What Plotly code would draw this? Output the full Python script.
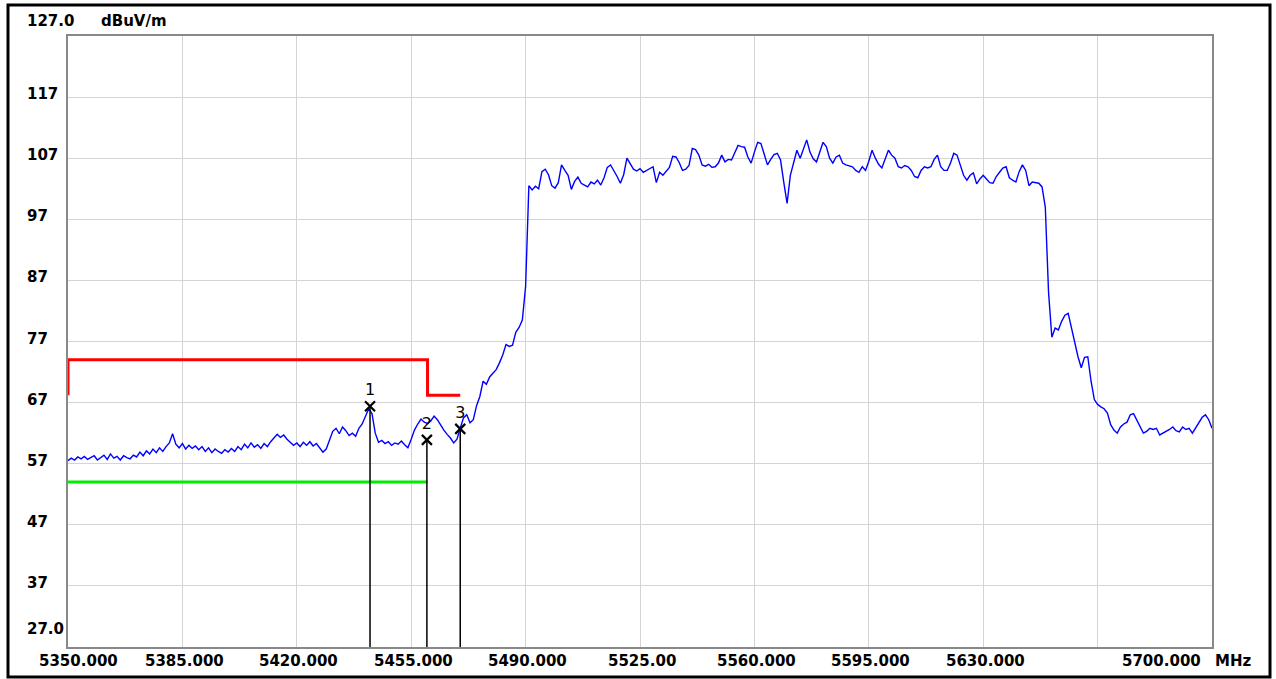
import plotly.graph_objects as go

# ---------------- data ----------------
SWEEP_START_MHZ = 5350
SWEEP_STEP_MHZ = 1

trace_level_dbuv = [
    57.5, 57.9, 57.6, 58.1, 57.8, 58.2, 57.7, 58.0, 58.3, 57.6,   # 5350
    58.0, 58.4, 57.7, 58.6, 57.9, 58.2, 57.6, 58.3, 58.0, 57.8,   # 5360
    58.4, 58.1, 58.9, 58.3, 59.1, 58.6, 59.4, 58.8, 59.6, 59.0,   # 5370
    59.8, 60.4, 61.9, 60.2, 59.6, 60.3, 59.4, 60.0, 59.5, 59.9,   # 5380
    59.3, 59.8, 59.0, 59.6, 58.8, 59.4, 59.0, 58.7, 59.3, 58.9,   # 5390
    59.5, 59.0, 59.8, 59.3, 60.2, 59.6, 60.4, 59.7, 60.1, 59.5,   # 5400
    60.3, 59.8, 60.6, 61.2, 61.8, 61.3, 61.7, 61.0, 60.5, 60.0,   # 5410
    60.4, 59.8, 60.5, 60.0, 60.6, 59.9, 60.3, 59.5, 58.9, 59.4,   # 5420
    61.0, 62.3, 62.8, 61.9, 63.0, 62.4, 61.6, 62.0, 61.5, 62.8,   # 5430
    63.5, 64.8, 66.0, 65.2, 62.0, 60.5, 60.8, 60.3, 60.6, 60.0,   # 5440
    60.4, 60.2, 60.7, 60.1, 59.6, 61.0, 62.5, 63.5, 64.3, 63.8,   # 5450
    63.6, 64.0, 64.8, 64.2, 63.3, 62.5, 61.8, 61.2, 60.4, 61.0,   # 5460
    62.8, 64.5, 65.0, 63.7, 64.2, 66.5, 68.0, 70.5, 70.0, 71.2,   # 5470
    71.8, 72.4, 73.5, 74.8, 76.5, 76.2, 76.4, 78.5, 79.3, 80.5,   # 5480
    86.0, 102.5, 101.8, 102.4, 102.0, 104.8, 105.2, 104.3, 102.5, 102.1,  # 5490
    103.0, 105.9, 105.0, 104.2, 101.9, 103.2, 103.9, 102.9, 102.6, 102.3,  # 5500
    103.1, 102.8, 103.4, 102.6, 103.8, 105.5, 105.9, 105.0, 104.0, 102.9,  # 5510
    104.3, 107.0, 106.2, 105.2, 104.9, 105.3, 104.7, 105.0, 105.3, 105.6,  # 5520
    103.0, 104.7, 104.2, 104.8, 105.5, 107.3, 107.2, 106.3, 105.0, 105.2,  # 5530
    105.8, 108.6, 108.4, 107.5, 105.9, 105.7, 106.0, 105.5, 105.6, 106.2,  # 5540
    107.5, 106.4, 106.8, 106.7, 107.8, 109.1, 108.9, 108.8, 107.2, 106.2,  # 5550
    108.0, 109.6, 109.4, 107.5, 105.9, 106.8, 107.6, 107.8, 106.7, 103.0,  # 5560
    99.6, 104.2, 106.5, 108.3, 107.0, 108.6, 110.0, 108.0, 106.9, 106.4,   # 5570
    108.0, 109.6, 108.9, 107.0, 106.2, 107.2, 107.5, 106.2, 105.9, 105.7,  # 5580
    105.6, 105.0, 104.7, 105.6, 105.0, 106.5, 108.3, 107.0, 106.0, 105.4,  # 5590
    106.8, 108.3, 107.5, 107.0, 105.6, 105.4, 105.8, 105.6, 105.0, 104.0,  # 5600
    103.8, 105.0, 105.6, 105.4, 105.6, 106.8, 107.5, 105.6, 105.0, 105.0,  # 5610
    106.2, 107.8, 107.5, 105.8, 104.2, 103.4, 104.2, 104.6, 102.8, 103.6,  # 5620
    104.2, 103.6, 103.0, 102.9, 104.0, 104.7, 105.4, 105.6, 103.8, 103.4,  # 5630
    103.1, 104.8, 105.9, 105.0, 102.5, 103.1, 103.0, 102.9, 102.3, 99.0,   # 5640
    85.0, 77.7, 79.2, 78.9, 80.3, 81.3, 81.6, 79.2, 77.2, 74.5,            # 5650
    72.7, 74.4, 74.5, 70.5, 67.5, 66.7, 66.3, 66.0, 65.3, 63.4,            # 5660
    62.5, 62.0, 63.0, 63.5, 63.8, 65.0, 65.2, 64.2, 63.0, 62.0,            # 5670
    62.3, 62.8, 62.6, 62.8, 61.7, 62.0, 62.2, 62.6, 63.0, 62.4,            # 5680
    62.2, 63.0, 62.6, 62.8, 62.0, 62.8, 63.6, 64.6, 65.0, 64.2,            # 5690
    62.8,                                                                  # 5700
]
trace_freq_mhz = [SWEEP_START_MHZ + i * SWEEP_STEP_MHZ for i in range(len(trace_level_dbuv))]

limit_red_freq = [5350, 5350, 5460, 5460, 5470]
limit_red_level = [68.2, 74.0, 74.0, 68.2, 68.2]

limit_green_freq = [5350, 5460]
limit_green_level = [54.0, 54.0]

marker_labels = ["1", "2", "3"]
marker_freq = [5442.4, 5459.8, 5470.0]
marker_level = [66.4, 60.9, 62.7]

x_tick_vals = [5350, 5385, 5420, 5455, 5490, 5525, 5560, 5595, 5630, 5700]
x_tick_text = ["5350.000", "5385.000", "5420.000", "5455.000", "5490.000",
               "5525.00", "5560.000", "5595.000", "5630.000", "5700.000"]
x_grid_vals = [5385, 5420, 5455, 5490, 5525, 5560, 5595, 5630, 5665]

y_tick_vals = [127, 117, 107, 97, 87, 77, 67, 57, 47, 37, 27]
y_tick_text = ["127.0", "117", "107", "97", "87", "77", "67", "57", "47", "37", "27.0"]

X_MIN, X_MAX = 5350, 5700
Y_MIN, Y_MAX = 27, 127

# ---------------- layout geometry ----------------
W, H = 1276, 679
ML, MR, MT, MB = 68, 64, 36, 32
PW, PH = W - ML - MR, H - MT - MB


def px_x(px):
    return (px - ML) / PW


def px_y(py):
    return (H - MB - py) / PH


FONT = "DejaVu Sans"
fig = go.Figure()

# measurement trace
fig.add_trace(go.Scatter(x=trace_freq_mhz, y=trace_level_dbuv, mode="lines",
                         line=dict(color="#0000ff", width=1.4), hoverinfo="skip"))

# limit lines
fig.add_trace(go.Scatter(x=limit_red_freq, y=limit_red_level, mode="lines",
                         line=dict(color="#ff0000", width=3)))
fig.add_trace(go.Scatter(x=limit_green_freq, y=limit_green_level, mode="lines",
                         line=dict(color="#00ee00", width=3)))

# marker drop lines
drop_x, drop_y = [], []
for f, lv in zip(marker_freq, marker_level):
    drop_x += [f, f, None]
    drop_y += [lv, Y_MIN, None]
fig.add_trace(go.Scatter(x=drop_x, y=drop_y, mode="lines",
                         line=dict(color="#000000", width=1.5)))

# markers
fig.add_trace(go.Scatter(x=marker_freq, y=marker_level, mode="markers+text",
                         text=marker_labels, textposition="top center",
                         textfont=dict(family=FONT, size=16, color="#000000"),
                         marker=dict(symbol="x-thin", size=10,
                                     line=dict(color="#000000", width=2.2))))

annotations = []
# y tick labels (left aligned)
for i, (v, t) in enumerate(zip(y_tick_vals, y_tick_text)):
    shift = 3
    if i == 0:
        shift = 15
    elif i == len(y_tick_vals) - 1:
        shift = 18
    annotations.append(dict(x=px_x(25), xref="paper", xanchor="left",
                            y=v, yref="y", yanchor="middle", yshift=shift,
                            text=t, showarrow=False,
                            font=dict(family=FONT, size=15, color="#000000", weight="bold")))
annotations.append(dict(x=px_x(99), xref="paper", xanchor="left",
                        y=Y_MAX, yref="y", yanchor="middle", yshift=15,
                        text="dBuV/m", showarrow=False,
                        font=dict(family=FONT, size=15, color="#000000", weight="bold")))

# x tick labels
for i, (v, t) in enumerate(zip(x_tick_vals, x_tick_text)):
    shift = 2
    if i == 0:
        shift = 10
    elif i == len(x_tick_vals) - 1:
        shift = -51
    annotations.append(dict(x=v, xref="x", xanchor="center", xshift=shift,
                            y=px_y(661), yref="paper", yanchor="middle",
                            text=t, showarrow=False,
                            font=dict(family=FONT, size=15, color="#000000", weight="bold")))
annotations.append(dict(x=px_x(1213), xref="paper", xanchor="left",
                        y=px_y(661), yref="paper", yanchor="middle",
                        text="MHz", showarrow=False,
                        font=dict(family=FONT, size=15, color="#000000", weight="bold")))

shapes = [
    # outer black frame
    dict(type="rect", xref="paper", yref="paper",
         x0=px_x(8), x1=px_x(1270), y0=px_y(677), y1=px_y(5),
         line=dict(color="#000000", width=3), layer="below"),
]

fig.update_layout(
    width=W, height=H,
    margin=dict(l=ML, r=MR, t=MT, b=MB),
    paper_bgcolor="#ffffff", plot_bgcolor="#ffffff",
    showlegend=False,
    annotations=annotations,
    shapes=shapes,
    xaxis=dict(range=[X_MIN, X_MAX], tickvals=x_grid_vals, showticklabels=False,
               ticks="", showgrid=True, gridcolor="#d4d4d4", gridwidth=1,
               zeroline=False, showline=True, linecolor="#888888", linewidth=2,
               mirror=True, fixedrange=True),
    yaxis=dict(range=[Y_MIN, Y_MAX], tickvals=y_tick_vals[1:-1], showticklabels=False,
               ticks="", showgrid=True, gridcolor="#d4d4d4", gridwidth=1,
               zeroline=False, showline=True, linecolor="#888888", linewidth=2,
               mirror=True, fixedrange=True),
)

fig.write_html(
    "out.html",
    config={"displayModeBar": False},
    post_script="document.body.style.margin='0';document.body.style.overflow='hidden';",
)
